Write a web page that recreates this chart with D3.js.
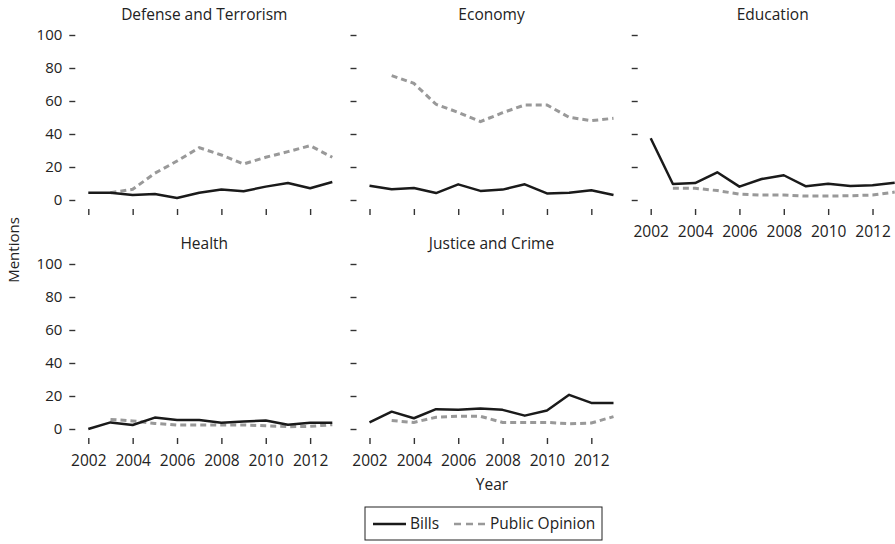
<!DOCTYPE html>
<html>
<head>
<meta charset="utf-8">
<script src="https://cdn.jsdelivr.net/npm/d3@7"></script>
<style>
    body { margin: 0; background: #fff; }
    text { font-family: "Open Sans", sans-serif; fill: #222; }
</style>
</head>
<body>
<svg id="chart"></svg>
<script>
var years = [2002, 2003, 2004, 2005, 2006, 2007, 2008, 2009, 2010, 2011, 2012, 2013];
var yearTicks = [2002, 2004, 2006, 2008, 2010, 2012];
var mentionTicks = [0, 20, 40, 60, 80, 100];
var topics = ["Defense and Terrorism", "Economy", "Education", "Health", "Justice and Crime"];
var seriesNames = ["Bills", "Public Opinion"];

// mentions per year (public opinion starts 2003)
var defenseBills = [4.4, 4.4, 3.0, 3.6, 1.2, 4.4, 6.3, 5.3, 8.1, 10.3, 7.1, 10.9];
var defenseOpinion = [null, 4.4, 6.5, 16.2, 23.6, 31.7, 27.3, 21.8, 25.9, 29.3, 32.9, 25.9];
var economyBills = [8.7, 6.5, 7.3, 4.2, 9.5, 5.5, 6.3, 9.5, 4.0, 4.4, 5.9, 3.0];
var economyOpinion = [null, 75.4, 70.7, 58.0, 53.1, 47.5, 52.9, 57.6, 57.6, 50.1, 48.1, 49.5];
var educationBills = [37.4, 9.7, 10.3, 16.8, 8.1, 12.7, 15.0, 8.3, 9.9, 8.5, 8.9, 10.5];
var educationOpinion = [null, 7.1, 7.1, 5.7, 3.6, 3.0, 3.0, 2.4, 2.4, 2.6, 3.0, 4.8];
var healthBills = [0, 4.0, 2.4, 6.9, 5.5, 5.5, 3.8, 4.6, 5.1, 2.6, 3.8, 3.8];
var healthOpinion = [null, 5.8, 4.9, 3.4, 2.4, 2.4, 2.4, 2.4, 2.0, 1.4, 1.6, 2.6];
var justiceBills = [4.0, 10.5, 6.5, 12.0, 11.6, 12.4, 11.6, 8.1, 11.2, 20.7, 15.8, 15.8];
var justiceOpinion = [null, 5.1, 4.0, 7.1, 7.7, 7.7, 4.0, 4.0, 4.0, 3.2, 3.6, 7.5];

var bills = [defenseBills, economyBills, educationBills, healthBills, justiceBills];
var opinion = [defenseOpinion, economyOpinion, educationOpinion, healthOpinion, justiceOpinion];

var w = 895;
var h = 544;
var plotW = 244;
var plotH = 165;
var left0 = 88.3;
var top0 = 35;
var colStep = 281.2;
var rowStep = 229;

var svg = d3.select("#chart")
    .attr("width", w)
    .attr("height", h);

var x = d3.scaleLinear().domain([2002, 2013]).range([0, plotW]);
var y = d3.scaleLinear().domain([0, 100]).range([plotH, 0]);

var line = d3.line()
    .defined(function (d) { return d[1] != null; })
    .x(function (d) { return x(d[0]); })
    .y(function (d) { return y(d[1]); });

topics.forEach(function (topic, i) {
    var col = i % 3;
    var row = Math.floor(i / 3);
    var g = svg.append("g")
        .attr("transform", "translate(" + (left0 + col * colStep) + "," + (top0 + row * rowStep) + ")");

    // title
    g.append("text")
        .text(topic)
        .attr("x", col == 0 ? plotW / 2 - 6 : plotW / 2)
        .attr("y", -15)
        .attr("text-anchor", "middle")
        .attr("font-size", "15.5px");

    // y axis: dashes only, labels on first column
    var yAxis = d3.axisLeft(y)
        .tickValues(mentionTicks)
        .tickSize(6)
        .tickPadding(7)
        .tickFormat(col == 0 ? d3.format("d") : "");
    var ya = g.append("g")
        .attr("transform", "translate(-13,0)")
        .call(yAxis);
    ya.select(".domain").remove();
    ya.selectAll("line").attr("stroke", "#333").attr("stroke-width", 1.4);
    ya.selectAll("text").attr("font-size", "15px").attr("font-family", "Open Sans, sans-serif").attr("fill", "#222");

    // x axis: labels only where no panel sits below
    var showYears = row == 1 || i == 2;
    var xAxis = d3.axisBottom(x)
        .tickValues(yearTicks)
        .tickSize(6)
        .tickPadding(11)
        .tickFormat(showYears ? d3.format("d") : "");
    var xa = g.append("g")
        .attr("transform", "translate(0," + (plotH + 9) + ")")
        .call(xAxis);
    xa.select(".domain").remove();
    xa.selectAll("line").attr("stroke", "#333").attr("stroke-width", 1.4);
    xa.selectAll("text").attr("font-size", "15.5px").attr("font-family", "Open Sans, sans-serif").attr("fill", "#222");

    // public opinion
    g.append("path")
        .datum(d3.zip(years, opinion[i]))
        .attr("d", line)
        .attr("fill", "none")
        .attr("stroke", "#999")
        .attr("stroke-width", 3)
        .attr("stroke-dasharray", "6,4");

    // bills
    g.append("path")
        .datum(d3.zip(years, bills[i]))
        .attr("d", line)
        .attr("fill", "none")
        .attr("stroke", "#1a1a1a")
        .attr("stroke-width", 2.5)
        .attr("stroke-linejoin", "round");
});

// axis titles
svg.append("text")
    .text("Mentions")
    .attr("transform", "translate(19,250) rotate(-90)")
    .attr("text-anchor", "middle")
    .attr("font-size", "15px");

svg.append("text")
    .text("Year")
    .attr("x", 492)
    .attr("y", 490)
    .attr("text-anchor", "middle")
    .attr("font-size", "15.5px");

// legend
var legend = svg.append("g").attr("transform", "translate(365,507)");
legend.append("rect")
    .attr("width", 237)
    .attr("height", 33)
    .attr("fill", "#fff")
    .attr("stroke", "#222")
    .attr("stroke-width", 1);
legend.append("line")
    .attr("x1", 8).attr("x2", 41)
    .attr("y1", 17).attr("y2", 17)
    .attr("stroke", "#1a1a1a")
    .attr("stroke-width", 2.5);
legend.append("text")
    .text(seriesNames[0])
    .attr("x", 45)
    .attr("y", 22)
    .attr("font-size", "15.5px");
legend.append("line")
    .attr("x1", 89).attr("x2", 120)
    .attr("y1", 17).attr("y2", 17)
    .attr("stroke", "#999")
    .attr("stroke-width", 2.5)
    .attr("stroke-dasharray", "7,5");
legend.append("text")
    .text(seriesNames[1])
    .attr("x", 125)
    .attr("y", 22)
    .attr("font-size", "15.5px");
</script>
</body>
</html>
